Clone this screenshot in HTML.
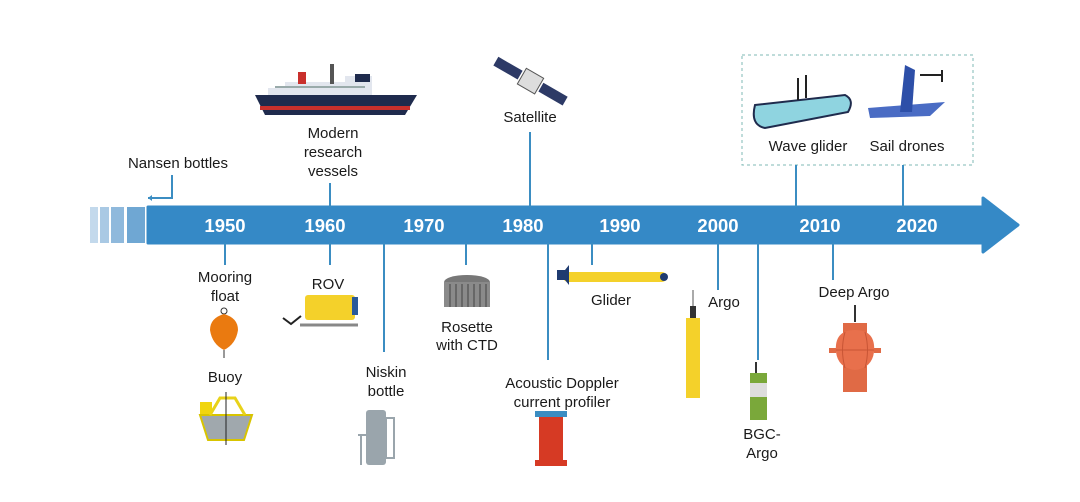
<!DOCTYPE html>
<html><head><meta charset="utf-8"><style>
html,body{margin:0;padding:0;background:#fff}
svg{display:block}
text{font-family:"Liberation Sans",sans-serif;fill:#1a1a1a}
.t{font-size:15px;text-anchor:middle}
.y{font-size:18.5px;font-weight:bold;fill:#fff;text-anchor:middle}
.l{stroke:#3b8dc2;stroke-width:2;fill:none}
</style></head><body>
<svg width="1080" height="502" viewBox="0 0 1080 502" xmlns="http://www.w3.org/2000/svg">
<rect x="90" y="207" width="8" height="36" fill="#c3d9ec"/>
<rect x="100" y="207" width="9" height="36" fill="#a9c9e4"/>
<rect x="111" y="207" width="13" height="36" fill="#8fb9dc"/>
<rect x="127" y="207" width="18" height="36" fill="#6fa7d3"/>
<path d="M148 207 H983 V198 L1018 225 L983 252 V243 H148 Z" fill="#3589c6" stroke="#3589c6" stroke-linejoin="round" stroke-width="3"/>
<text class="y" x="225" y="232">1950</text>
<text class="y" x="325" y="232">1960</text>
<text class="y" x="424" y="232">1970</text>
<text class="y" x="523" y="232">1980</text>
<text class="y" x="620" y="232">1990</text>
<text class="y" x="718" y="232">2000</text>
<text class="y" x="820" y="232">2010</text>
<text class="y" x="917" y="232">2020</text>
<text class="t" x="178" y="168">Nansen bottles</text>
<path class="l" d="M172 175 V198 H148" stroke-width="1.5"/>
<path d="M148 198 l4 -3 v6z" fill="#3b8dc2"/>
<!-- ship -->
<path d="M255 95 H417 L405 115 H265 Z" fill="#1f2b4d"/>
<rect x="260" y="106" width="150" height="4" fill="#c9302c"/>
<path d="M268 95 V88 H285 V82 H345 V76 H372 V95Z" fill="#e2e6ee"/>
<rect x="275" y="86" width="90" height="2" fill="#9aa"/>
<rect x="298" y="72" width="8" height="12" fill="#c9302c"/>
<rect x="330" y="64" width="4" height="20" fill="#555"/>
<rect x="355" y="74" width="15" height="8" fill="#1f2b4d"/>
<text class="t" x="333" y="138">Modern</text>
<text class="t" x="333" y="157">research</text>
<text class="t" x="333" y="176">vessels</text>
<path class="l" d="M330 183 V207"/>
<g transform="rotate(30 530 82)">
<rect x="490" y="76" width="28" height="10" fill="#2d3a66"/>
<rect x="542" y="76" width="28" height="10" fill="#2d3a66"/>
<rect x="520" y="72" width="20" height="18" fill="#ddd" stroke="#555"/>
</g>
<text class="t" x="530" y="122">Satellite</text>
<path class="l" d="M530 132 V207"/>
<rect x="742" y="55" width="231" height="110" fill="none" stroke="#7fb9b5" stroke-dasharray="3 3"/>
<path d="M755 105 L845 95 Q855 100 848 112 L765 128 Q750 125 755 105Z" fill="#8fd4e0" stroke="#1f2b4d" stroke-width="2"/>
<path d="M798 100 V78 M806 98 V75" stroke="#222" stroke-width="2"/>
<path d="M868 108 L945 102 L930 116 L870 118Z" fill="#4a6cc4"/>
<path d="M900 112 L905 65 L915 70 L912 112Z" fill="#2d4fa8"/>
<path d="M920 75 H942 M942 70 V82" stroke="#222" stroke-width="2"/>
<text class="t" x="808" y="151">Wave glider</text>
<text class="t" x="907" y="151">Sail drones</text>
<path class="l" d="M796 165 V207 M903 165 V207"/>
<path class="l" d="M225 243 V265 M330 243 V265 M384 243 V352 M466 243 V265 M548 243 V360 M592 243 V265 M718 243 V290 M758 243 V360 M833 243 V280"/>
<text class="t" x="225" y="282">Mooring</text>
<text class="t" x="225" y="301">float</text>
<circle cx="224" cy="311" r="3" fill="none" stroke="#333"/>
<path d="M224 314 Q238 318 238 330 Q236 344 224 350 Q212 344 210 330 Q210 318 224 314Z" fill="#ea7a10"/>
<path d="M224 350 V358" stroke="#333"/>
<text class="t" x="225" y="382">Buoy</text>
<path d="M200 415 H252 L244 440 H208 Z" fill="#a0a8ad" stroke="#d8c400" stroke-width="2"/>
<path d="M210 415 L220 398 H235 L245 415" fill="none" stroke="#e8d21a" stroke-width="3"/>
<rect x="200" y="402" width="12" height="12" fill="#f0d50e"/>
<path d="M226 392 V445" stroke="#222"/>
<text class="t" x="328" y="289">ROV</text>
<rect x="305" y="295" width="50" height="25" rx="3" fill="#f4d12a"/>
<rect x="352" y="297" width="6" height="18" fill="#2a5a9a"/>
<path d="M300 325 H358" stroke="#888" stroke-width="3"/>
<path d="M283 318 l8 6 l10 -8" stroke="#222" stroke-width="2" fill="none"/>
<text class="t" x="386" y="377">Niskin</text>
<text class="t" x="386" y="396">bottle</text>
<rect x="366" y="410" width="20" height="55" rx="3" fill="#9aa5ac"/>
<rect x="386" y="418" width="8" height="40" fill="none" stroke="#9aa5ac" stroke-width="2"/>
<path d="M358 435 H366 M361 435 V465" stroke="#9aa5ac" stroke-width="2"/>
<ellipse cx="467" cy="282" rx="23" ry="7" fill="#777"/>
<rect x="444" y="282" width="46" height="25" fill="#8a8a8a"/>
<path d="M450 284 V307 M456 284 V307 M462 284 V307 M468 284 V307 M474 284 V307 M480 284 V307 M486 284 V307" stroke="#444"/>
<text class="t" x="467" y="332">Rosette</text>
<text class="t" x="467" y="350">with CTD</text>
<text class="t" x="562" y="388">Acoustic Doppler</text>
<text class="t" x="562" y="407">current profiler</text>
<rect x="535" y="411" width="32" height="6" fill="#3b8dc2"/>
<rect x="539" y="417" width="24" height="44" fill="#d63a24"/>
<rect x="535" y="460" width="32" height="6" fill="#d63a24"/>
<rect x="563" y="272" width="104" height="10" rx="5" fill="#f4d12a"/>
<path d="M557 270 h8 l4 -5 v20 l-4 -5 h-8z" fill="#1f3b70"/>
<circle cx="664" cy="277" r="4" fill="#1f3b70"/>
<text class="t" x="611" y="305">Glider</text>
<rect x="686" y="318" width="14" height="80" fill="#f4d12a"/>
<rect x="690" y="306" width="6" height="12" fill="#333"/>
<path d="M693 290 V306" stroke="#aaa" stroke-width="2"/>
<text class="t" x="724" y="307">Argo</text>
<rect x="750" y="373" width="17" height="10" fill="#7aa83a"/>
<rect x="750" y="383" width="17" height="14" fill="#ddd"/>
<rect x="750" y="397" width="17" height="23" fill="#7aa83a"/>
<path d="M756 362 V373" stroke="#333" stroke-width="2"/>
<text class="t" x="762" y="439">BGC-</text>
<text class="t" x="762" y="458">Argo</text>
<text class="t" x="854" y="297">Deep Argo</text>
<path d="M855 305 V322" stroke="#333" stroke-width="2"/>
<rect x="843" y="323" width="24" height="12" fill="#e06a45"/>
<rect x="843" y="358" width="24" height="34" fill="#e06a45"/>
<path d="M836 352 Q834 330 855 330 Q876 330 874 352 Q872 368 855 370 Q838 368 836 352Z" fill="#e8704c"/>
<path d="M845 332 Q840 350 845 368 M865 332 Q870 350 865 368 M836 350 H874" stroke="#c85535" fill="none"/>
<rect x="829" y="348" width="7" height="5" fill="#e06a45"/>
<rect x="874" y="348" width="7" height="5" fill="#e06a45"/>
</svg>
</body></html>
